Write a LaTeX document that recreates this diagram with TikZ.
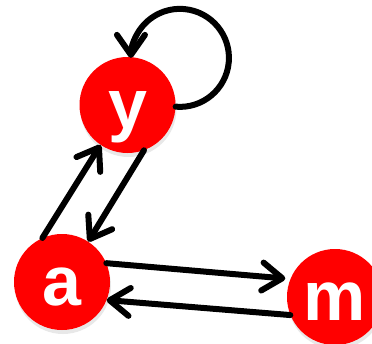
\documentclass[tikz,border=0pt]{standalone}
\usepackage{fontspec}
\setmainfont{Liberation Sans}
\usetikzlibrary{arrows.meta,shadows}
\newcommand\lett[1]{\smash{\raisebox{-23pt}{#1}}}
\begin{document}
\begin{tikzpicture}[x=1pt,y=1pt,
  vert/.style={circle, fill=red, minimum size=96pt, inner sep=0pt, text=white,
    font=\fontsize{70}{70}\selectfont\bfseries,
    drop shadow={opacity=0.18, shadow xshift=1pt, shadow yshift=-4pt}},
  arr/.style={line width=6pt, line cap=round, line join=round,
    -{Straight Barb[length=20pt,width=28pt,line cap=round,line join=round]}}]
\useasboundingbox (0,0) rectangle (372,-343);
\node[vert] (y) at (127.5,-105) {\lett{y}};
\node[vert] (a) at (62,-282) {\lett{a}};
\node[vert] (m) at (335,-297) {\lett{m}};
\draw[arr] (a.114) -- (y.236);
\draw[arr] (y.290) -- (a.57);
\draw[arr, shorten >=5pt] (a.23) -- (m.158);
\draw[arr] (m.202) -- (a.338);
\draw[arr] (y.-2) arc[start angle=-95, end angle=180, radius=49];
\end{tikzpicture}
\end{document}
